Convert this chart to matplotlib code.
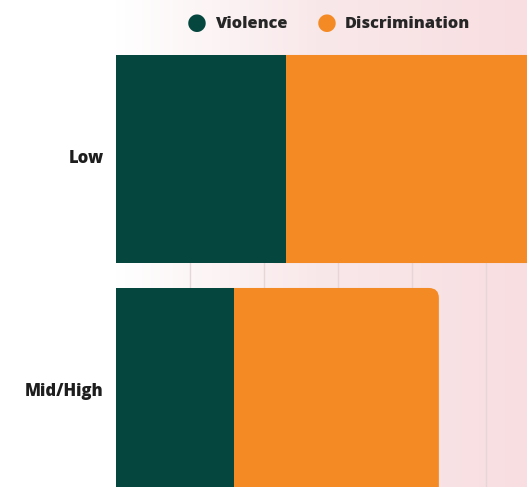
import numpy as np
import matplotlib.pyplot as plt
import matplotlib.transforms as mtransforms
from matplotlib.patches import FancyBboxPatch
from matplotlib.colors import LinearSegmentedColormap

categories = ["Low", "Mid/High"]
violence = [23, 16]
discrimination = [36, 27.6]
series_names = ["Violence", "Discrimination"]

teal = "#05463f"
orange = "#f48a23"

plt.rcParams['font.family'] = ['Open Sans', 'DejaVu Sans']

fig = plt.figure(figsize=(5.27, 4.87), dpi=100)

# soft white-to-pink background
bg = fig.add_axes([0, 0, 1, 1], zorder=0)
grad = np.linspace(0, 1, 256).reshape(1, -1)
cmap = LinearSegmentedColormap.from_list("bg", [(0, "#ffffff"), (0.22, "#ffffff"),
                                               (0.6, "#f9e8ea"), (1, "#f8dee1")])
bg.imshow(grad, aspect="auto", cmap=cmap, extent=[0, 1, 0, 1])
bg.set_axis_off()

ax = fig.add_axes([116 / 527, 0, 1 - 116 / 527, 1], zorder=1)
ax.patch.set_alpha(0)

y = np.arange(len(categories))
h = 0.893
ax.barh(y, violence, height=h, color=teal, zorder=3)
bars = ax.barh(y, discrimination, left=violence, height=h, color=orange, zorder=2)

# rounded right end on the discrimination bars
x_per_px = 55.5 / 411
y_per_px = 1 / 233
r = 10 * x_per_px
for b in bars:
    b.set_visible(False)
    x0, y0 = b.get_x(), b.get_y()
    w, hh = b.get_width(), b.get_height()
    p = FancyBboxPatch((x0 - 3, y0), w + 3, hh,
                       boxstyle=f"round,pad=0,rounding_size={r}",
                       mutation_aspect=y_per_px / x_per_px,
                       fc=orange, ec="none", zorder=2)
    ax.add_patch(p)

top, bottom = -159 / 233, (487 - 159) / 233
ax.set_xlim(0, 55.5)
ax.set_ylim(bottom, top)

# grid lines only run from the top of the first bar downwards
ax.vlines([10, 20, 30, 40, 50], -h / 2, bottom, color="#e6d6d8", linewidth=1, zorder=1)
ax.set_xticks([])
ax.set_yticks(y)
ax.set_yticklabels(categories, fontsize=12, fontweight="heavy", color="#1e1e1e")
ax.tick_params(axis="y", length=0, pad=9)
shift = mtransforms.ScaledTranslation(0, 2.5 / 100, fig.dpi_scale_trans)
for lbl in ax.get_yticklabels():
    lbl.set_transform(lbl.get_transform() + shift)
for s in ax.spines.values():
    s.set_visible(False)

# legend row
for xc, name, c in [(197, series_names[0], teal), (327, series_names[1], orange)]:
    fig.text(xc / 527, 1 - 23 / 487, "\u25CF", color=c, fontsize=16.5,
             ha="center", va="center", family="DejaVu Sans")
    fig.text((xc + 18) / 527, 1 - 24 / 487, name, color="#262626", fontsize=11.8,
             fontweight="heavy", ha="left", va="center")

fig.savefig("out.png", dpi=100)
